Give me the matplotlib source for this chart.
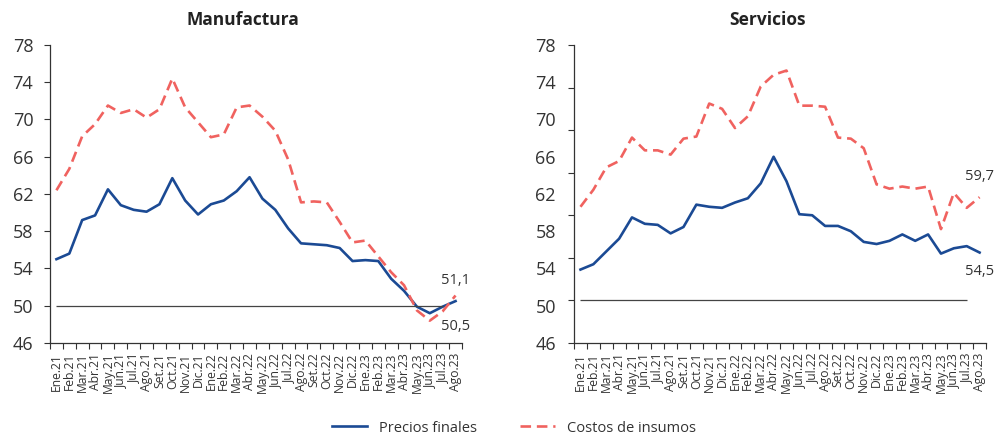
import numpy as np
import matplotlib
matplotlib.use("Agg")
import matplotlib.pyplot as plt

plt.rcParams["font.family"] = ["Open Sans", "DejaVu Sans"]

# Data
meses = ["Ene.21", "Feb.21", "Mar.21", "Abr.21", "May.21", "Jun.21", "Jul.21", "Ago.21",
         "Set.21", "Oct.21", "Nov.21", "Dic.21", "Ene.22", "Feb.22", "Mar.22", "Abr.22",
         "May.22", "Jun.22", "Jul.22", "Ago.22", "Set.22", "Oct.22", "Nov.22", "Dic.22",
         "Ene.23", "Feb.23", "Mar.23", "Abr.23", "May.23", "Jun.23", "Jul.23", "Ago.23"]

manuf_precios = [55.0, 55.6, 59.2, 59.7, 62.5, 60.8, 60.3, 60.1, 60.9, 63.7, 61.3, 59.8,
                 60.9, 61.3, 62.3, 63.8, 61.5, 60.3, 58.3, 56.7, 56.6, 56.5, 56.2, 54.8,
                 54.9, 54.8, 52.9, 51.6, 49.9, 49.2, 49.9, 50.5]
manuf_costos = [62.4, 64.7, 68.2, 69.5, 71.5, 70.7, 71.1, 70.2, 71.1, 74.4, 71.3, 69.7,
                68.1, 68.4, 71.3, 71.5, 70.3, 68.8, 65.7, 61.1, 61.2, 61.1, 59.0, 56.8,
                57.0, 55.3, 53.6, 52.2, 49.5, 48.4, 49.4, 51.1]

serv_precios = [52.9, 53.4, 54.6, 55.8, 57.8, 57.2, 57.1, 56.3, 56.9, 59.0, 58.8, 58.7,
                59.2, 59.6, 61.0, 63.5, 61.2, 58.1, 58.0, 57.0, 57.0, 56.5, 55.5, 55.3,
                55.6, 56.2, 55.6, 56.2, 54.4, 54.9, 55.1, 54.5]
serv_costos = [58.8, 60.4, 62.5, 63.1, 65.3, 64.1, 64.1, 63.7, 65.2, 65.4, 68.5, 68.0,
               66.2, 67.3, 70.1, 71.2, 71.6, 68.3, 68.3, 68.2, 65.3, 65.2, 64.3, 60.9,
               60.5, 60.7, 60.5, 60.7, 56.7, 60.1, 58.7, 59.7]

azul = "#1B4A94"
rojo = "#F0625F"
gris = "#333333"

x = np.arange(len(meses))

fig = plt.figure(figsize=(9.98, 4.36), dpi=100)
ax1 = fig.add_axes([0.0501, 0.2133, 0.4128, 0.6835])
ax2 = fig.add_axes([0.5752, 0.2133, 0.4128, 0.6835])


def base(ax, precios, costos, ymax):
    ax.plot(x, precios, color=azul, lw=1.9, label="Precios finales")
    ax.plot(x, costos, color=rojo, lw=1.9, ls=(0, (4, 2.2)), label="Costos de insumos")
    ax.hlines(50, x[0], x[-2], color="#444444", lw=0.9)
    ax.set_xlim(-0.5, len(meses) - 0.5)
    ax.set_ylim(46, ymax)
    ax.set_xticks(np.arange(-0.5, len(meses), 1.0))
    ax.set_xticklabels([])
    ax.set_xticks(x, minor=True)
    ax.set_xticklabels(meses, minor=True, rotation=90, fontsize=8.7, color=gris)
    ax.tick_params(axis="x", which="major", length=4, direction="out", color=gris)
    ax.tick_params(axis="x", which="minor", length=0, pad=7)
    for s in ["top", "right"]:
        ax.spines[s].set_visible(False)
    for s in ["left", "bottom"]:
        ax.spines[s].set_color(gris)
        ax.spines[s].set_linewidth(0.9)


# Manufactura
base(ax1, manuf_precios, manuf_costos, 78)
ax1.set_yticks(np.arange(46, 79, 4))
ax1.tick_params(axis="y", length=4, pad=8, labelsize=13, colors=gris, labelcolor=gris)
ax1.annotate("51,1", (x[-1], manuf_costos[-1]), xytext=(0, 11), textcoords="offset points",
             ha="center", va="center", fontsize=10.5, color=gris)
ax1.annotate("50,5", (x[-1], manuf_precios[-1]), xytext=(0, -18), textcoords="offset points",
             ha="center", va="center", fontsize=10.5, color=gris)

# Servicios (ticks del eje y desalineados de las etiquetas, como en el original)
base(ax2, serv_precios, serv_costos, 74)
ax2.set_yticks(np.arange(46, 75, 4))
ax2.set_yticklabels([])
ax2.tick_params(axis="y", length=4, color=gris)
lab = ax2.twinx()
lab.set_ylim(46, 78)
lab.set_yticks(np.arange(46, 79, 4))
lab.yaxis.set_ticks_position("left")
lab.tick_params(axis="y", length=0, pad=13, labelsize=13, labelcolor=gris)
for s in lab.spines.values():
    s.set_visible(False)
ax2.annotate("59,7", (x[-1], serv_costos[-1]), xytext=(0, 15), textcoords="offset points",
             ha="center", va="center", fontsize=10.5, color=gris)
ax2.annotate("54,5", (x[-1], serv_precios[-1]), xytext=(0, -14), textcoords="offset points",
             ha="center", va="center", fontsize=10.5, color=gris)

fig.text(243 / 998, 1 - 20 / 436, "Manufactura", ha="center", va="center",
         fontsize=12.5, fontweight="bold", color="#222222")
fig.text(767 / 998, 1 - 20 / 436, "Servicios", ha="center", va="center",
         fontsize=12.5, fontweight="bold", color="#222222")

h, l = ax1.get_legend_handles_labels()
fig.legend(h, l, loc="center", bbox_to_anchor=(0.515, 1 - 428 / 436), ncol=2, frameon=False,
           fontsize=10.5, handlelength=2.4, columnspacing=3.0, labelcolor=gris)

fig.savefig("out.png", dpi=100)
